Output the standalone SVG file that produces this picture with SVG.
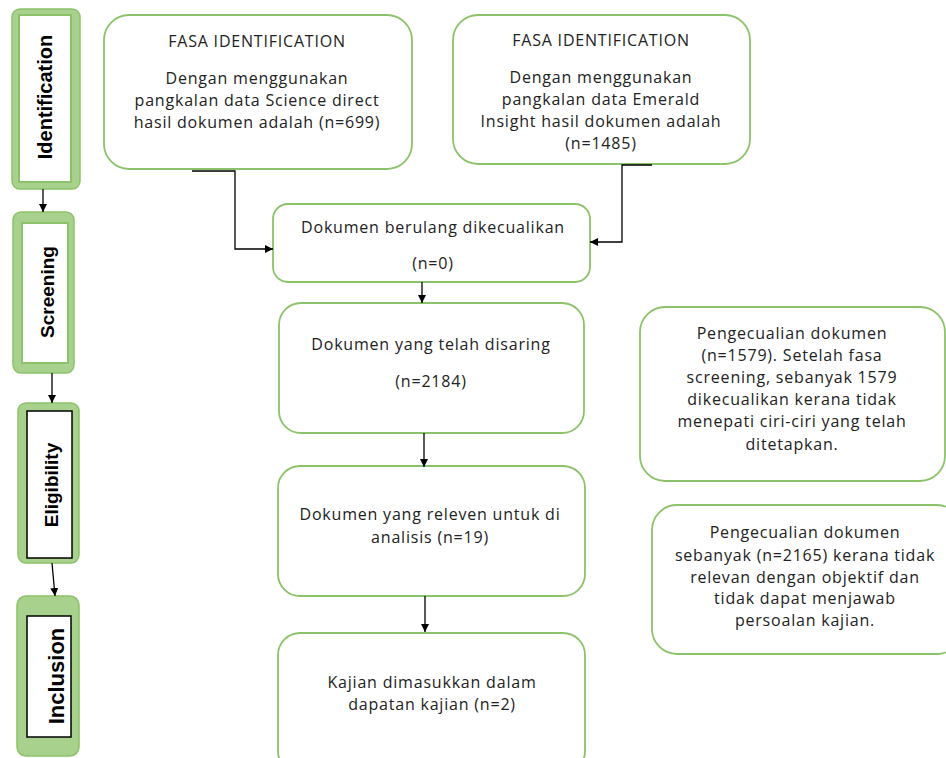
<svg xmlns="http://www.w3.org/2000/svg" width="946" height="758" viewBox="0 0 946 758">
<defs>
<marker id="ah" viewBox="0 0 10 10" refX="10" refY="5" markerWidth="8" markerHeight="8" markerUnits="userSpaceOnUse" orient="auto">
<path d="M0,0 L10,5 L0,10 z" fill="#000"/>
</marker>
</defs>
<style>
.outer{fill:#a9d18e;stroke:#8cc26a;stroke-width:1.5}
.inner{fill:#fff;stroke:#8cc26a;stroke-width:2}
.innerb{fill:#fff;stroke:#000;stroke-width:1.5}
.side{font-family:"Liberation Sans",Arial,sans-serif;font-weight:bold;fill:#000;text-anchor:middle}
.box{fill:#fff;stroke:#8cc26a;stroke-width:1.8}
.t{font-family:"Open Sans","Liberation Sans",sans-serif;font-size:16px;letter-spacing:0.8px;fill:#222;text-anchor:middle}
.c{fill:none;stroke:#000;stroke-width:1.3}
</style>
<rect width="946" height="758" fill="#fff"/>
<g id="identification">
<rect class="outer" x="12" y="9" width="68" height="180" rx="8"/>
<rect class="inner" x="19" y="15" width="52" height="167"/>
<text class="side" font-size="20" transform="translate(52,97) rotate(-90)">Identification</text>
</g>
<g id="screening">
<rect class="outer" x="13" y="212" width="61" height="161" rx="8"/>
<rect class="inner" x="22" y="223" width="46" height="140"/>
<text class="side" font-size="19" transform="translate(54,292) rotate(-90)">Screening</text>
</g>
<g id="eligibility">
<rect class="outer" x="18" y="403" width="61" height="160" rx="8"/>
<rect class="innerb" x="27" y="411" width="45" height="147"/>
<text class="side" font-size="19" transform="translate(58,485) rotate(-90)">Eligibility</text>
</g>
<g id="inclusion">
<rect class="outer" x="17" y="596" width="62" height="160" rx="9"/>
<rect class="innerb" x="27" y="616" width="44" height="121"/>
<text class="side" font-size="22" transform="translate(64,676) rotate(-90)">Inclusion</text>
</g>
<g id="box-sciencedirect">
<rect class="box" x="104" y="15" width="308" height="154" rx="25"/>
<text class="t" x="257" y="47">FASA IDENTIFICATION</text>
<text class="t" x="257" y="84">Dengan menggunakan</text>
<text class="t" x="257" y="106">pangkalan data Science direct</text>
<text class="t" x="257" y="128">hasil dokumen adalah (n=699)</text>
</g>
<g id="box-emerald">
<rect class="box" x="453" y="15" width="297" height="149" rx="25"/>
<text class="t" x="601" y="46">FASA IDENTIFICATION</text>
<text class="t" x="601" y="83">Dengan menggunakan</text>
<text class="t" x="601" y="105">pangkalan data Emerald</text>
<text class="t" x="601" y="127">Insight hasil dokumen adalah</text>
<text class="t" x="601" y="149">(n=1485)</text>
</g>
<g id="box-duplicates">
<rect class="box" x="273" y="204" width="317" height="78" rx="15"/>
<text class="t" x="433" y="233">Dokumen berulang dikecualikan</text>
<text class="t" x="433" y="269">(n=0)</text>
</g>
<g id="box-screened">
<rect class="box" x="279" y="303" width="305" height="130" rx="22"/>
<text class="t" x="431" y="350">Dokumen yang telah disaring</text>
<text class="t" x="431" y="387">(n=2184)</text>
</g>
<g id="box-relevant">
<rect class="box" x="278" y="466" width="307" height="130" rx="22"/>
<text class="t" x="430" y="520">Dokumen yang releven untuk di</text>
<text class="t" x="430" y="543">analisis (n=19)</text>
</g>
<g id="box-included">
<rect class="box" x="278" y="633" width="307" height="140" rx="22"/>
<text class="t" x="432" y="688">Kajian dimasukkan dalam</text>
<text class="t" x="432" y="710">dapatan kajian (n=2)</text>
</g>
<g id="box-excluded-1579">
<rect class="box" x="640" y="307" width="305" height="174" rx="25"/>
<text class="t" x="792" y="339">Pengecualian dokumen</text>
<text class="t" x="792" y="361">(n=1579). Setelah fasa</text>
<text class="t" x="792" y="383">screening, sebanyak 1579</text>
<text class="t" x="792" y="405">dikecualikan kerana tidak</text>
<text class="t" x="792" y="427">menepati ciri-ciri yang telah</text>
<text class="t" x="792" y="450">ditetapkan.</text>
</g>
<g id="box-excluded-2165">
<rect class="box" x="652" y="505" width="310" height="149" rx="25"/>
<text class="t" x="805" y="538">Pengecualian dokumen</text>
<text class="t" x="805" y="561">sebanyak (n=2165) kerana tidak</text>
<text class="t" x="805" y="583">relevan dengan objektif dan</text>
<text class="t" x="805" y="604">tidak dapat menjawab</text>
<text class="t" x="805" y="626">persoalan kajian.</text>
</g>
<g id="connectors">
<path class="c" d="M43,189 V212" marker-end="url(#ah)"/>
<path class="c" d="M52,373 V403" marker-end="url(#ah)"/>
<path class="c" d="M52,563 L55,596" marker-end="url(#ah)"/>
<path class="c" d="M192,171 H235 V249 H273" marker-end="url(#ah)"/>
<path class="c" d="M652,165 H622 V242 H590" marker-end="url(#ah)"/>
<path class="c" d="M422,282 V303" marker-end="url(#ah)"/>
<path class="c" d="M424,433 V467" marker-end="url(#ah)"/>
<path class="c" d="M425,596 V632" marker-end="url(#ah)"/>
</g>
</svg>
